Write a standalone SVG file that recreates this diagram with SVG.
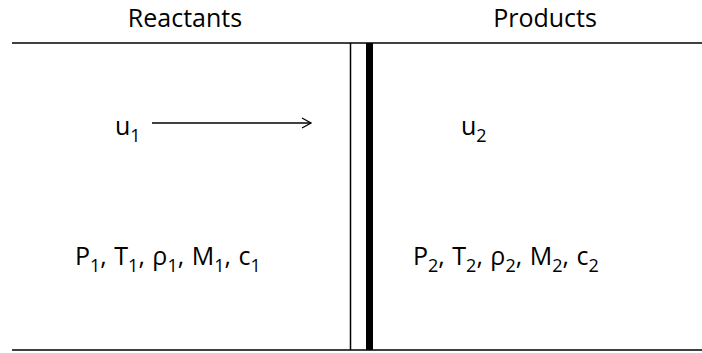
<svg xmlns="http://www.w3.org/2000/svg" width="702" height="353" viewBox="0 0 702 353">
<style>
text{font-family:"Open Sans","Liberation Sans",sans-serif;font-size:25px;fill:#000}
.s{font-size:18px}
.w{word-spacing:1px}
.line{stroke:#000;stroke-width:1.5;fill:none}
</style>
<defs>
<marker id="ah" markerWidth="12" markerHeight="12" refX="10" refY="6" orient="auto" markerUnits="userSpaceOnUse">
<path d="M1,1 L10,6 L1,11" fill="none" stroke="#000" stroke-width="1.3"/>
</marker>
</defs>
<rect width="702" height="353" fill="#fff"/>
<g id="walls">
<line class="line" x1="12" y1="43" x2="702" y2="43"/>
<line class="line" x1="12" y1="350" x2="702" y2="350"/>
<line class="line" x1="350.5" y1="43" x2="350.5" y2="350"/>
<rect x="366" y="43" width="7" height="307" fill="#000"/>
</g>
<g id="reactants">
<text x="185" y="27" text-anchor="middle">Reactants</text>
<text x="115" y="135">u<tspan class="s" dy="7">1</tspan></text>
<text class="w" x="75" y="265">P<tspan class="s" dy="7">1</tspan><tspan dy="-7">, T</tspan><tspan class="s" dy="7">1</tspan><tspan dy="-7">, ρ</tspan><tspan class="s" dy="7">1</tspan><tspan dy="-7">, M</tspan><tspan class="s" dy="7">1</tspan><tspan dy="-7">, c</tspan><tspan class="s" dy="7">1</tspan></text>
</g>
<g id="products">
<text x="545" y="27" text-anchor="middle">Products</text>
<text x="461" y="135">u<tspan class="s" dy="7">2</tspan></text>
<text class="w" x="413" y="265">P<tspan class="s" dy="7">2</tspan><tspan dy="-7">, T</tspan><tspan class="s" dy="7">2</tspan><tspan dy="-7">, ρ</tspan><tspan class="s" dy="7">2</tspan><tspan dy="-7">, M</tspan><tspan class="s" dy="7">2</tspan><tspan dy="-7">, c</tspan><tspan class="s" dy="7">2</tspan></text>
</g>
<g id="connectors">
<line x1="152" y1="123" x2="311" y2="123" stroke="#000" stroke-width="1.3" marker-end="url(#ah)"/>
</g>
</svg>
